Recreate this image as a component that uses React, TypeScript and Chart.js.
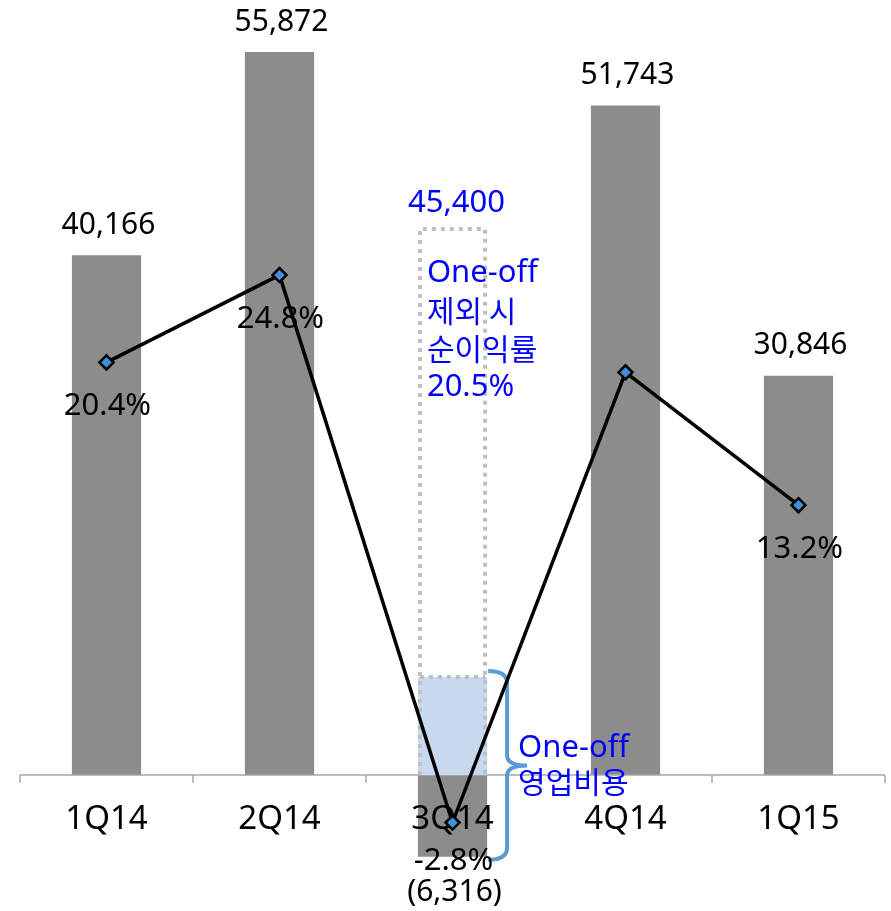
import React, { useEffect, useRef } from 'react';
import { Chart, registerables } from 'chart.js';

Chart.register(...registerables);

const categories = ['1Q14', '2Q14', '3Q14', '4Q14', '1Q15'];
const netIncome = [40166, 55872, -6316, 51743, 30846];
const netMargin = [20.4, 24.8, -2.8, 19.9, 13.2];
const marginLabels = ['20.4%', '24.8%', '-2.8%', '', '13.2%'];

const oneOffCategory = '3Q14';
const oneOffExcludedLabel = '45,400';
const oneOffBoxTop = 42200;
const oneOffExpenseTop = 7570;
const oneOffNoteLines = ['One-off', '제외 시', '순이익률', '20.5%'];
const oneOffExpenseLines = ['One-off', '영업비용'];

const FONT = '"Noto Sans", "Noto Sans CJK KR", sans-serif';
const KFONT = '"Noto Sans CJK KR", sans-serif';
const hasHangul = (s: string) => /[\uac00-\ud7a3]/.test(s);

function fmtValue(v: number): string {
  const s = Math.abs(v).toLocaleString('en-US');
  return v < 0 ? `(${s})` : s;
}

const overlayPlugin = {
  id: 'overlay',
  afterDatasetDraw(chart: any, args: any) {
    if (args.index !== 0) return;
    const ctx = chart.ctx as CanvasRenderingContext2D;
    const xs = chart.scales.x;
    const ys = chart.scales.y;
    const y1 = chart.scales.y1;
    const meta = chart.getDatasetMeta(0);
    const zero = ys.getPixelForValue(0);
    const n = categories.length;
    const step = n > 1 ? xs.getPixelForValue(1) - xs.getPixelForValue(0) : 0;

    ctx.save();
    // axis line and ticks
    ctx.strokeStyle = '#a6a6a6';
    ctx.lineWidth = 1.5;
    ctx.beginPath();
    const first = xs.getPixelForValue(0) - step / 2;
    const last = xs.getPixelForValue(n - 1) + step / 2;
    ctx.moveTo(first, zero);
    ctx.lineTo(last, zero);
    for (let i = 0; i <= n; i++) {
      const bx = first + i * step;
      ctx.moveTo(bx, zero);
      ctx.lineTo(bx, zero + 8);
    }
    ctx.stroke();

    // category labels
    ctx.fillStyle = '#000';
    ctx.font = `33px ${FONT}`;
    ctx.textAlign = 'center';
    ctx.textBaseline = 'middle';
    categories.forEach((c, i) => {
      ctx.fillText(c, xs.getPixelForValue(i), zero + 45);
    });

    // one-off annotation
    const idx = categories.indexOf(oneOffCategory);
    const bar = meta.data[idx];
    const cx = bar.x;
    const w = bar.width;
    const left = cx - w / 2;
    const right = cx + w / 2;
    const boxTop = ys.getPixelForValue(oneOffBoxTop);
    const expTop = ys.getPixelForValue(oneOffExpenseTop);
    const barBottom = ys.getPixelForValue(netIncome[idx]);

    ctx.fillStyle = '#c6d9ee';
    ctx.fillRect(left, expTop, w, zero - expTop);

    ctx.strokeStyle = '#bfbfbf';
    ctx.lineWidth = 4;
    ctx.setLineDash([4, 5]);
    ctx.beginPath();
    ctx.moveTo(left + 2, zero);
    ctx.lineTo(left + 2, boxTop);
    ctx.lineTo(right - 2, boxTop);
    ctx.lineTo(right - 2, zero);
    ctx.moveTo(left + 2, expTop);
    ctx.lineTo(right - 2, expTop);
    ctx.stroke();
    ctx.setLineDash([]);

    const blueFont = (t: string) => (hasHangul(t) ? `30px ${KFONT}` : `31px ${FONT}`);

    // blue texts
    ctx.fillStyle = '#0000ff';
    ctx.font = blueFont(oneOffExcludedLabel);
    ctx.textAlign = 'center';
    ctx.fillText(oneOffExcludedLabel, cx + 4, boxTop - 26);
    ctx.textAlign = 'left';
    oneOffNoteLines.forEach((t, i) => {
      ctx.font = blueFont(t);
      ctx.fillText(t, left + 9, boxTop + 44 + i * 38);
    });

    // brace
    const bTop = expTop - 6;
    const bBot = barBottom + 3;
    const mid = (bTop + bBot) / 2;
    const x0 = right + 1;
    const spine = right + 20;
    const tip = right + 40;
    ctx.strokeStyle = '#5b9bd5';
    ctx.lineWidth = 4;
    ctx.beginPath();
    ctx.moveTo(x0, bTop);
    ctx.quadraticCurveTo(spine, bTop, spine, bTop + 12);
    ctx.lineTo(spine, mid - 10);
    ctx.quadraticCurveTo(spine, mid, tip, mid);
    ctx.moveTo(tip, mid);
    ctx.quadraticCurveTo(spine, mid, spine, mid + 10);
    ctx.lineTo(spine, bBot - 12);
    ctx.quadraticCurveTo(spine, bBot, x0, bBot);
    ctx.stroke();

    ctx.fillStyle = '#0000ff';
    ctx.textAlign = 'left';
    ctx.font = blueFont(oneOffExpenseLines[0]);
    ctx.fillText(oneOffExpenseLines[0], right + 31, mid - 17);
    ctx.font = blueFont(oneOffExpenseLines[1]);
    ctx.fillText(oneOffExpenseLines[1], right + 31, mid + 16);

    // value labels
    ctx.fillStyle = '#000';
    ctx.font = `30px ${FONT}`;
    ctx.textAlign = 'center';
    netIncome.forEach((v, i) => {
      const el = meta.data[i];
      const ly = v >= 0 ? el.y - 30 : el.y + 36;
      ctx.fillText(fmtValue(v), el.x + 2, ly);
    });

    // margin labels
    ctx.font = `31px ${FONT}`;
    netMargin.forEach((v, i) => {
      const t = marginLabels[i];
      if (!t) return;
      const py = y1.getPixelForValue(v);
      ctx.fillText(t, xs.getPixelForValue(i) + 1, py + (v >= 0 ? 44 : 39));
    });

    ctx.restore();
  },
};

export default function App() {
  const canvasRef = useRef<HTMLCanvasElement | null>(null);

  useEffect(() => {
    if (!canvasRef.current) return;
    const chart = new Chart(canvasRef.current, {
      type: 'bar',
      data: {
        labels: categories,
        datasets: [
          {
            type: 'bar',
            data: netIncome,
            backgroundColor: '#8c8c8c',
            borderWidth: 0,
            barPercentage: 0.4,
            categoryPercentage: 1.0,
            yAxisID: 'y',
            order: 1,
          } as any,
          {
            type: 'line',
            data: netMargin,
            borderColor: '#000',
            borderWidth: 3.5,
            tension: 0,
            pointStyle: 'rectRot',
            pointRadius: 7,
            pointBackgroundColor: '#3f8fdc',
            pointBorderColor: '#000',
            pointBorderWidth: 2.5,
            yAxisID: 'y1',
            order: 0,
          } as any,
        ],
      },
      options: {
        animation: false,
        responsive: true,
        maintainAspectRatio: false,
        devicePixelRatio: 1,
        events: [],
        layout: { autoPadding: false, padding: { left: 20, right: 6, top: 0, bottom: 0 } },
        plugins: {
          legend: { display: false },
          tooltip: { enabled: false },
        },
        scales: {
          x: { display: false, offset: true },
          y: { display: false, min: -10510, max: 59890 },
          y1: { display: false, position: 'right', min: -7.26, max: 38.67 },
        },
      },
      plugins: [overlayPlugin],
    });
    return () => chart.destroy();
  }, []);

  return (
    <div style={{ position: 'absolute', left: 0, top: 0, width: 891, height: 911 }}>
      <canvas ref={canvasRef} />
    </div>
  );
}
